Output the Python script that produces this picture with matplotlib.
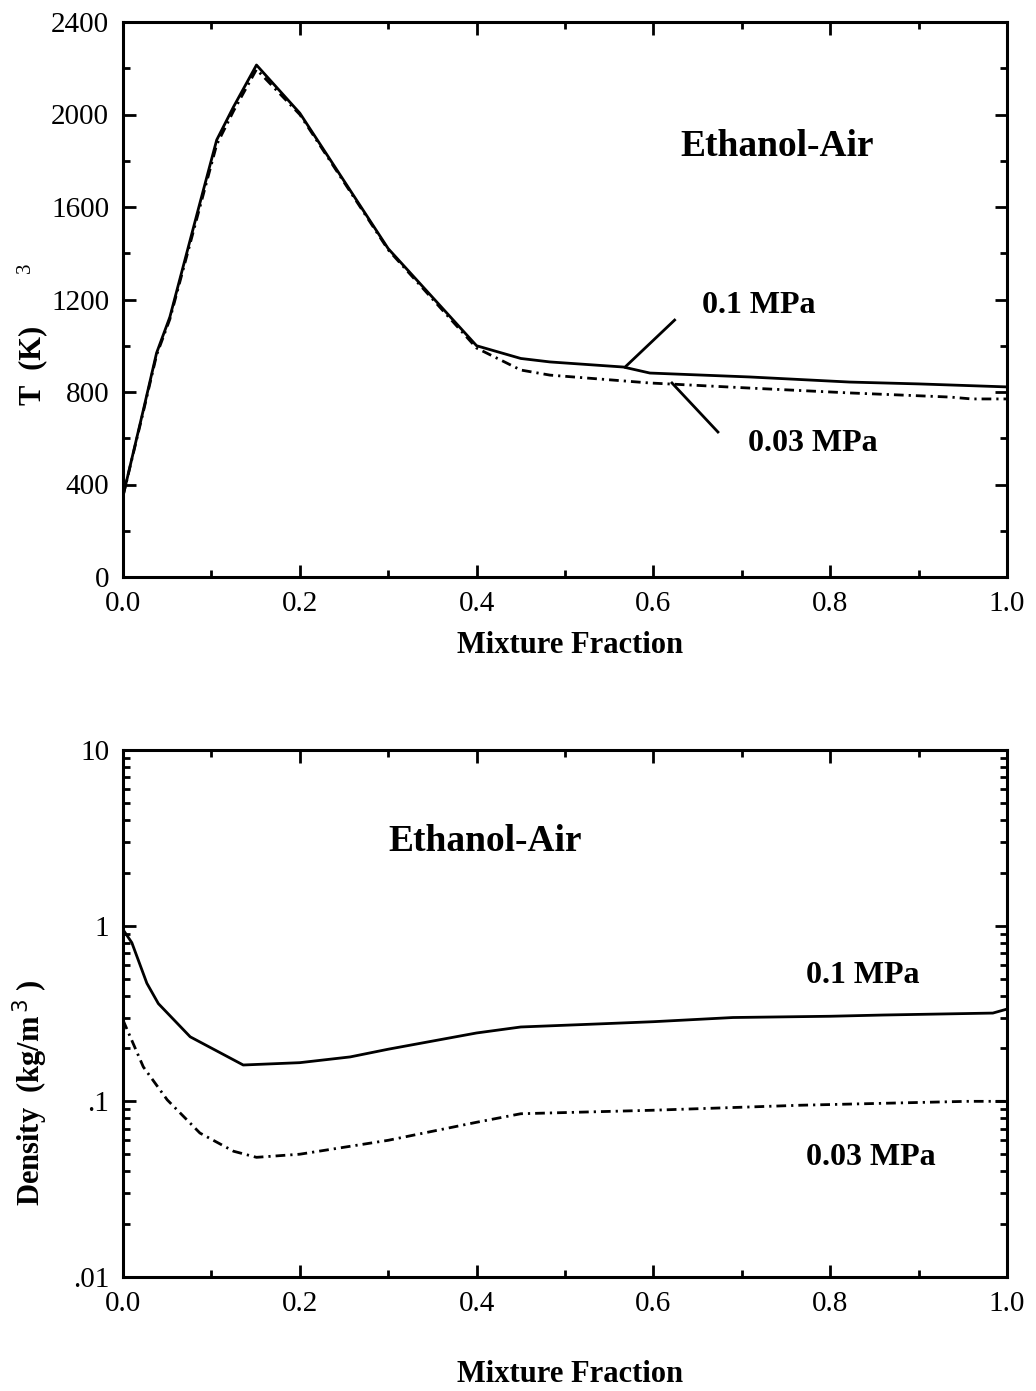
import numpy as np
import matplotlib
matplotlib.use("Agg")
import matplotlib.pyplot as plt
from matplotlib.ticker import MultipleLocator, FixedLocator, FixedFormatter, LogLocator, NullFormatter

plt.rcParams['font.family'] = ['Liberation Serif', 'DejaVu Serif']

# temperature vs mixture fraction
z_t01 = [0.0, 0.023, 0.038, 0.053, 0.087, 0.106, 0.125, 0.151, 0.2, 0.3, 0.4, 0.45, 0.483,
         0.566, 0.596, 0.709, 0.822, 0.9, 1.0]
t_01 = [350, 722, 969, 1124, 1617, 1890, 2033, 2214, 2006, 1420, 1000, 945, 930,
        908, 882, 865, 843, 835, 822]
z_t003 = [0.0, 0.023, 0.038, 0.053, 0.087, 0.106, 0.125, 0.151, 0.2, 0.3, 0.4, 0.45, 0.483,
          0.596, 0.709, 0.822, 0.936, 0.96, 1.0]
t_003 = [350, 715, 960, 1115, 1600, 1870, 2015, 2195, 2000, 1415, 990, 895, 873,
         839, 817, 796, 778, 770, 770]

# density vs mixture fraction
z_r01 = [0.0, 0.01, 0.027, 0.04, 0.076, 0.136, 0.2, 0.257, 0.3, 0.4, 0.45, 0.539, 0.6,
         0.69, 0.8, 0.86, 0.984, 1.0]
rho_01 = [0.95, 0.80, 0.47, 0.36, 0.233, 0.161, 0.166, 0.179, 0.198, 0.245, 0.265, 0.276,
          0.284, 0.30, 0.305, 0.31, 0.318, 0.335]
z_r003 = [0.0, 0.023, 0.05, 0.087, 0.125, 0.151, 0.2, 0.3, 0.4, 0.45, 0.6, 0.766, 0.955, 1.0]
rho_003 = [0.29, 0.157, 0.102, 0.066, 0.052, 0.048, 0.050, 0.060, 0.076, 0.085, 0.089,
           0.095, 0.10, 0.10]

x_ticks = [0.0, 0.2, 0.4, 0.6, 0.8, 1.0]
x_labels = ['0.0', '0.2', '0.4', '0.6', '0.8', '1.0']

W, H = 1036, 1391
fig = plt.figure(figsize=(W / 100, H / 100), dpi=100)

def fx(px):
    return px / W

def fy(py):
    return 1 - py / H

dashdot = (0, (3.5, 1.8, 0.8, 1.8))
lw = 2.0

def style_axes(ax):
    for s in ax.spines.values():
        s.set_linewidth(2.2)
    ax.tick_params(which='both', direction='in', top=True, right=True, labelsize=21, width=2.0)
    ax.tick_params(which='major', length=9, pad=10)
    ax.tick_params(which='minor', length=5)
    ax.set_xlim(0, 1)
    ax.set_xticks(x_ticks)
    ax.set_xticklabels(x_labels)
    ax.xaxis.set_minor_locator(MultipleLocator(0.1))

# top panel
ax1 = fig.add_axes([fx(123), fy(577), fx(1007) - fx(123), fy(22) - fy(577)])
ax1.plot(z_t01, t_01, color='black', lw=lw, solid_joinstyle='round')
ax1.plot(z_t003, t_003, color='black', lw=lw, linestyle=dashdot)
ax1.set_ylim(0, 2400)
ax1.yaxis.set_major_locator(MultipleLocator(400))
ax1.yaxis.set_minor_locator(MultipleLocator(200))
style_axes(ax1)

ax1.plot([0.624, 0.568], [1111, 908], color='black', lw=2.0)
ax1.plot([0.621, 0.673], [839, 627], color='black', lw=2.0)
ax1.text(0.655, 1176, '0.1 MPa', fontsize=23, fontweight='bold', va='center')
ax1.text(0.707, 579, '0.03 MPa', fontsize=23, fontweight='bold', va='center')
ax1.text(0.630, 1860, 'Ethanol-Air', fontsize=27, fontweight='bold', va='center')

fig.text(fx(33), fy(365), 'T  (K)', fontsize=22, fontweight='bold', rotation=90,
         ha='center', va='center')
fig.text(fx(25), fy(268), '3', fontsize=15, rotation=90, ha='center', va='center')
fig.text(fx(570), fy(645), 'Mixture Fraction', fontsize=22, fontweight='bold',
         ha='center', va='center')

# bottom panel
ax2 = fig.add_axes([fx(123), fy(1277), fx(1007) - fx(123), fy(750) - fy(1277)])
ax2.plot(z_r01, rho_01, color='black', lw=lw, solid_joinstyle='round')
ax2.plot(z_r003, rho_003, color='black', lw=lw, linestyle=dashdot)
ax2.set_yscale('log')
ax2.set_ylim(0.01, 10)
ax2.yaxis.set_major_locator(FixedLocator([0.01, 0.1, 1, 10]))
ax2.yaxis.set_major_formatter(FixedFormatter(['.01', '.1', '1', '10']))
ax2.yaxis.set_minor_locator(LogLocator(base=10, subs=np.arange(2, 10)))
ax2.yaxis.set_minor_formatter(NullFormatter())
style_axes(ax2)

ax2.text(0.773, 0.52, '0.1 MPa', fontsize=23, fontweight='bold', va='center')
ax2.text(0.773, 0.048, '0.03 MPa', fontsize=23, fontweight='bold', va='center')
ax2.text(0.300, 3.0, 'Ethanol-Air', fontsize=27, fontweight='bold', va='center')

fig.text(fx(30), fy(1093), 'Density  (kg/m$^{\\,3}$ )', fontsize=22, fontweight='bold',
         rotation=90, ha='center', va='center')
fig.text(fx(570), fy(1375), 'Mixture Fraction', fontsize=22, fontweight='bold',
         ha='center', va='center')

fig.savefig('out.png', dpi=100)
